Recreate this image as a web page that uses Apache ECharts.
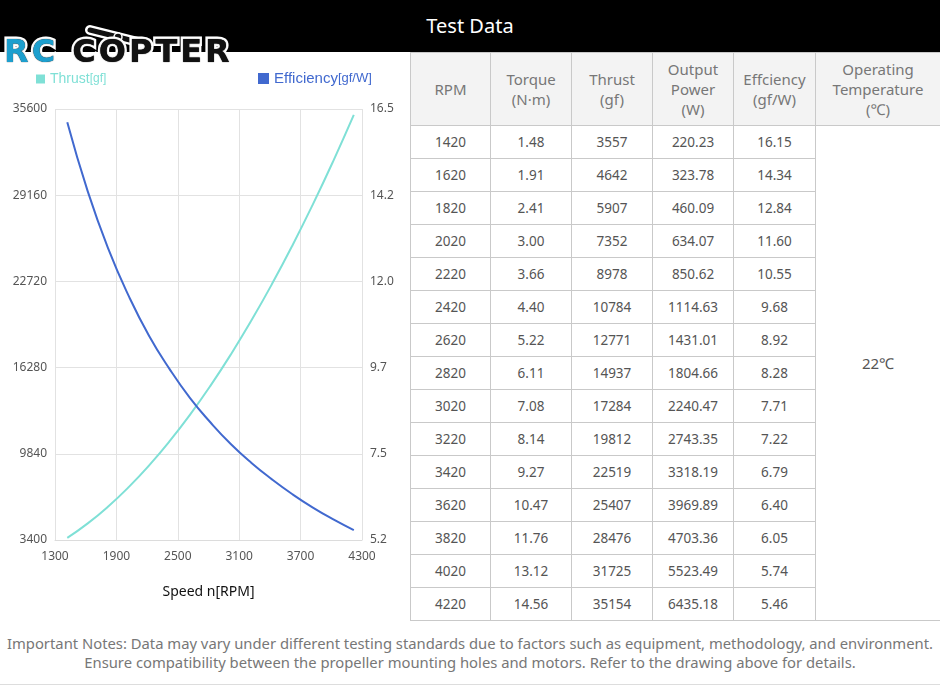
<!DOCTYPE html>
<html>
<head>
<meta charset="utf-8">
<script src="https://cdn.jsdelivr.net/npm/echarts@6/dist/echarts.min.js"></script>
<style>
    body{margin:0;width:940px;height:687px;position:relative;overflow:hidden;background:#fff;font-family:'Noto Sans',sans-serif;}
    .head{position:absolute;left:0;top:0;width:940px;height:52px;background:#000;color:#fff;font-size:20px;line-height:52px;text-align:center;}
    .logo{position:absolute;left:4px;top:32px;font-family:'DejaVu Sans';font-weight:bold;font-size:32px;letter-spacing:3px;
          -webkit-text-stroke:5px #fff;paint-order:stroke fill;text-shadow:0 0 1px #000;white-space:nowrap;}
    .logo .rc{color:#1d9fce;}
    .logo .cp{color:#111;}
    .prop{position:absolute;left:82px;top:24px;}
    #chart{position:absolute;left:0;top:52px;width:410px;height:568px;}
    #tbl{position:absolute;left:410px;top:52px;width:530px;border-collapse:collapse;table-layout:fixed;color:#555;}
    #tbl td,#tbl th{border:1px solid #c9c9c9;text-align:center;padding:0;font-size:13.5px;}
    #tbl th{background:#f3f3f3;color:#777;font-weight:normal;font-size:15px;line-height:20px;height:72px;}
    #tbl td{height:32px;}
    #tbl td.temp{font-size:15px;padding-bottom:20px;}
    .foot{position:absolute;left:0;top:620px;width:940px;height:65px;border-bottom:1px solid #ddd;color:#777;font-size:14.8px;line-height:19px;text-align:center;padding-top:14px;box-sizing:border-box;white-space:nowrap;}
</style>
</head>
<body>
<div class="head">Test Data</div>
<div id="chart"></div>
<svg class="prop" width="80" height="30">
    <line x1="8" y1="6" x2="64" y2="20" stroke="#fff" stroke-width="10" stroke-linecap="round"/>
    <line x1="8" y1="6" x2="64" y2="20" stroke="#111" stroke-width="5" stroke-linecap="round"/>
    <line x1="36" y1="13" x2="36" y2="28" stroke="#111" stroke-width="3"/>
    <circle cx="36" cy="13" r="4" fill="#111" stroke="#fff" stroke-width="1.5"/>
</svg>
<div class="logo"><span class="rc">RC</span> <span class="cp">COPTER</span></div>
<table id="tbl"></table>
<div class="foot">Important Notes: Data may vary under different testing standards due to factors such as equipment, methodology, and environment.<br>Ensure compatibility between the propeller mounting holes and motors. Refer to the drawing above for details.</div>

<script>
// 测试数据
var rpm = [1420, 1620, 1820, 2020, 2220, 2420, 2620, 2820, 3020, 3220, 3420, 3620, 3820, 4020, 4220];
var torque = [1.48, 1.91, 2.41, 3.00, 3.66, 4.40, 5.22, 6.11, 7.08, 8.14, 9.27, 10.47, 11.76, 13.12, 14.56];
var thrust = [3557, 4642, 5907, 7352, 8978, 10784, 12771, 14937, 17284, 19812, 22519, 25407, 28476, 31725, 35154];
var power = [220.23, 323.78, 460.09, 634.07, 850.62, 1114.63, 1431.01, 1804.66, 2240.47, 2743.35, 3318.19, 3969.89, 4703.36, 5523.49, 6435.18];
var efficiency = [16.15, 14.34, 12.84, 11.60, 10.55, 9.68, 8.92, 8.28, 7.71, 7.22, 6.79, 6.40, 6.05, 5.74, 5.46];
var temperature = '22℃';
var headers = ['RPM', 'Torque<br>(N·m)', 'Thrust<br>(gf)', 'Output<br>Power<br>(W)', 'Effciency<br>(gf/W)', 'Operating<br>Temperature<br>(℃)'];
var colWidths = [80, 81, 81, 81, 82, 125];

// 坐标轴刻度
var speedTicks = [1300, 4300, 600];
var thrustTicks = [3400, 35600, 6440];
var effTicks = [5.2, 16.5, 2.26];

// 表格
var html = '<colgroup>';
colWidths.forEach(function (w) { html += '<col style="width:' + w + 'px">'; });
html += '</colgroup><tr>';
headers.forEach(function (h) { html += '<th>' + h + '</th>'; });
html += '</tr>';
for (var i = 0; i < rpm.length; i++) {
    html += '<tr><td>' + rpm[i] + '</td><td>' + torque[i].toFixed(2) + '</td><td>' + thrust[i] +
        '</td><td>' + power[i].toFixed(2) + '</td><td>' + efficiency[i].toFixed(2) + '</td>';
    if (i === 0) html += '<td class="temp" rowspan="' + rpm.length + '">' + temperature + '</td>';
    html += '</tr>';
}
document.getElementById('tbl').innerHTML = html;

// 曲线图
var myChart = echarts.init(document.getElementById('chart'));
function plainLabel(fmt, margin) {
    return {color: '#555', fontSize: 12, fontFamily: 'Noto Sans', formatter: fmt, margin: margin};
}
var option = {
    animation: false,
    grid: {left: 55, right: 48, top: 57, bottom: 80},
    legend: [{
        left: 31, top: 15, itemWidth: 9, itemHeight: 9, icon: 'rect',
        data: ['Thrust[gf]'],
        formatter: function () { return '{a|Thrust}{b|[gf]}'; },
        textStyle: {color: '#7fe0d6', rich: {a: {fontSize: 14, color: '#7fe0d6'}, b: {fontSize: 12, color: '#7fe0d6'}}}
    }, {
        left: 253, top: 14, itemWidth: 11, itemHeight: 11, icon: 'rect',
        data: ['Efficiency[gf/W]'],
        formatter: function () { return '{a|Efficiency}{b|[gf/W]}'; },
        textStyle: {color: '#4169cf', rich: {a: {fontSize: 15, color: '#4169cf'}, b: {fontSize: 13, color: '#4169cf'}}}
    }],
    xAxis: {
        type: 'value', min: speedTicks[0], max: speedTicks[1], interval: speedTicks[2],
        name: 'Speed n[RPM]', nameLocation: 'middle', nameGap: 45,
        nameTextStyle: {color: '#111', fontSize: 14, fontFamily: 'Noto Sans'},
        axisLine: {lineStyle: {color: '#dcdcdc'}},
        axisTick: {show: false},
        axisLabel: plainLabel(function (v) { return String(v); }, 11),
        splitLine: {lineStyle: {color: '#e2e2e2'}}
    },
    yAxis: [{
        type: 'value', min: thrustTicks[0], max: thrustTicks[1], interval: thrustTicks[2],
        axisLine: {show: false}, axisTick: {show: false},
        axisLabel: plainLabel(function (v) { return String(Math.round(v)); }, 8),
        splitLine: {lineStyle: {color: '#e2e2e2'}}
    }, {
        type: 'value', min: effTicks[0], max: effTicks[1], interval: effTicks[2],
        axisLine: {show: false}, axisTick: {show: false},
        axisLabel: plainLabel(function (v) { return v.toFixed(1); }, 8),
        splitLine: {show: false}
    }],
    series: [{
        name: 'Thrust[gf]', type: 'line', smooth: true, showSymbol: false,
        itemStyle: {color: '#7fe0d6'}, lineStyle: {width: 2, color: '#7fe0d6'},
        data: rpm.map(function (r, i) { return [r, thrust[i]]; })
    }, {
        name: 'Efficiency[gf/W]', type: 'line', smooth: true, showSymbol: false, yAxisIndex: 1,
        itemStyle: {color: '#4169cf'}, lineStyle: {width: 2, color: '#4169cf'},
        data: rpm.map(function (r, i) { return [r, efficiency[i]]; })
    }]
};
myChart.setOption(option);
</script>
</body>
</html>
